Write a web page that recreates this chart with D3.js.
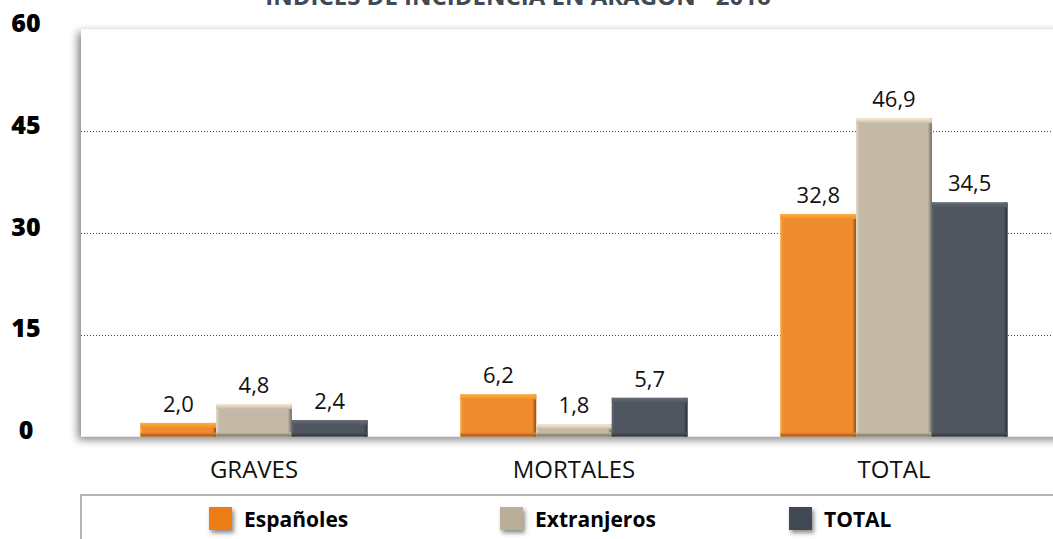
<!DOCTYPE html>
<html>
<head>
<meta charset="utf-8">
<script src="https://cdn.jsdelivr.net/npm/d3@7"></script>
<style>
  body { margin: 0; background: #fff; }
  svg { display: block; font-family: "Open Sans", sans-serif; }
</style>
</head>
<body>
<svg id="chart" width="1053" height="539"></svg>
<script>
const title = "ÍNDICES DE INCIDENCIA EN ARAGÓN - 2016";
const categories = ["GRAVES", "MORTALES", "TOTAL"];
const seriesNames = ["Españoles", "Extranjeros", "TOTAL"];
const espanoles = [2.0, 6.2, 32.8];
const extranjeros = [4.8, 1.8, 46.9];
const total = [2.4, 5.7, 34.5];
const yTicks = [0, 15, 30, 45, 60];

const seriesValues = [espanoles, extranjeros, total];
const colors = ["#f08a2e", "#c4b9a6", "#4f555f"];
const legendColors = ["#ee7c12", "#b9ae98", "#414a53"];
const fmt = (v) => v.toFixed(1).replace(".", ",");

const svg = d3.select("#chart");
const defs = svg.append("defs");

// sombras
const panelShadow = defs.append("filter").attr("id", "panelShadow")
  .attr("x", "-5%").attr("y", "-10%").attr("width", "110%").attr("height", "120%");
panelShadow.append("feDropShadow")
  .attr("dx", -3).attr("dy", 3).attr("stdDeviation", 4)
  .attr("flood-color", "#000").attr("flood-opacity", 0.5);

const swatchShadow = defs.append("filter").attr("id", "swatchShadow")
  .attr("x", "-50%").attr("y", "-50%").attr("width", "200%").attr("height", "200%");
swatchShadow.append("feDropShadow")
  .attr("dx", 2).attr("dy", 3).attr("stdDeviation", 2)
  .attr("flood-color", "#000").attr("flood-opacity", 0.45);

// degradados para el relieve de las barras
function grad(id, horizontal, from, to) {
  const g = defs.append("linearGradient").attr("id", id)
    .attr("x1", 0).attr("y1", 0)
    .attr("x2", horizontal ? 1 : 0).attr("y2", horizontal ? 0 : 1);
  g.append("stop").attr("offset", "0%").attr("stop-color", from);
  g.append("stop").attr("offset", "100%").attr("stop-color", to);
}
colors.forEach((c, i) => {
  const col = d3.color(c);
  grad("top" + i, false, col.brighter(0.7), c);
  grad("bot" + i, false, c, col.darker(1.4));
  grad("left" + i, true, col.brighter(0.5), c);
  grad("right" + i, true, c, col.darker(1.6));
});

const y = d3.scaleLinear().domain([0, 60]).range([436.5, 29.5]);
const x0 = d3.scaleBand().domain(categories).range([94, 1054]);
const x1 = d3.scaleBand().domain(seriesNames).range([0, x0.bandwidth()]).paddingOuter(0.615);

// título (cortado arriba, como en el original)
svg.append("text")
  .attr("x", 518).attr("y", 5)
  .attr("text-anchor", "middle")
  .attr("font-size", 24).attr("font-weight", 700)
  .attr("fill", "#3f4a54")
  .text(title);

// panel
svg.append("rect")
  .attr("x", 81).attr("y", y(60))
  .attr("width", 1000).attr("height", y(0) - y(60))
  .attr("fill", "#fff")
  .attr("filter", "url(#panelShadow)");

// rejilla
svg.append("g")
  .selectAll("line")
  .data(yTicks.filter((t) => t > 0 && t < 60))
  .enter()
  .append("line")
  .attr("x1", 81).attr("x2", 1053)
  .attr("y1", (d) => Math.round(y(d)) + 0.5)
  .attr("y2", (d) => Math.round(y(d)) + 0.5)
  .attr("stroke", "#444")
  .attr("stroke-width", 1)
  .attr("stroke-dasharray", "1,2");

// eje y
const yAxis = svg.append("g")
  .attr("transform", "translate(26,0)")
  .call(d3.axisLeft(y).tickValues(yTicks).tickSize(0));
yAxis.select(".domain").remove();
yAxis.selectAll("text")
  .attr("x", 0).attr("dy", null)
  .attr("y", 2)
  .attr("text-anchor", "middle")
  .attr("font-family", "Open Sans, sans-serif")
  .attr("font-size", 25).attr("font-weight", 800)
  .attr("fill", "#000");

// eje x
const xAxis = svg.append("g")
  .attr("transform", `translate(0,${y(0)})`)
  .call(d3.axisBottom(x0).tickSize(0));
xAxis.select(".domain").remove();
xAxis.selectAll("text")
  .attr("y", 41).attr("dy", null)
  .attr("font-family", "Open Sans, sans-serif")
  .attr("font-size", 24).attr("font-weight", 400)
  .attr("fill", "#111");

// barras
const rows = [];
categories.forEach((cat, ci) => {
  seriesNames.forEach((s, si) => {
    rows.push({ cat, s, si, v: seriesValues[si][ci] });
  });
});

const bars = svg.append("g")
  .selectAll("g")
  .data(rows)
  .enter()
  .append("g")
  .attr("transform", (d) => `translate(${x0(d.cat) + x1(d.s)},${y(d.v)})`);

const bw = x1.bandwidth();
bars.append("rect")
  .attr("width", bw)
  .attr("height", (d) => y(0) - y(d.v))
  .attr("fill", (d) => colors[d.si]);
bars.append("rect")
  .attr("width", 3)
  .attr("height", (d) => y(0) - y(d.v))
  .attr("fill", (d) => `url(#left${d.si})`);
bars.append("rect")
  .attr("x", bw - 4)
  .attr("width", 4)
  .attr("height", (d) => y(0) - y(d.v))
  .attr("fill", (d) => `url(#right${d.si})`);
bars.append("rect")
  .attr("width", bw)
  .attr("height", (d) => Math.min(5, (y(0) - y(d.v)) * 0.4))
  .attr("fill", (d) => `url(#top${d.si})`);
bars.append("rect")
  .attr("y", (d) => (y(0) - y(d.v)) - Math.min(4, (y(0) - y(d.v)) * 0.35))
  .attr("width", bw)
  .attr("height", (d) => Math.min(4, (y(0) - y(d.v)) * 0.35))
  .attr("fill", (d) => `url(#bot${d.si})`);

bars.append("text")
  .attr("x", bw / 2)
  .attr("y", -11)
  .attr("text-anchor", "middle")
  .attr("font-size", 22)
  .attr("fill", "#111")
  .text((d) => fmt(d.v));

// leyenda
svg.append("path")
  .attr("d", "M81,539 V495 H1053")
  .attr("fill", "none")
  .attr("stroke", "#b4b4b4")
  .attr("stroke-width", 2);

const legendX = [209, 500, 789];
const legend = svg.append("g")
  .selectAll("g")
  .data(seriesNames)
  .enter()
  .append("g")
  .attr("transform", (d, i) => `translate(${legendX[i]},507)`);
legend.append("rect")
  .attr("width", 23).attr("height", 23)
  .attr("fill", (d, i) => legendColors[i])
  .attr("filter", "url(#swatchShadow)");
legend.append("text")
  .attr("x", 35).attr("y", 20)
  .attr("font-size", 21).attr("font-weight", 700)
  .attr("fill", "#000")
  .text((d) => d);
</script>
</body>
</html>
